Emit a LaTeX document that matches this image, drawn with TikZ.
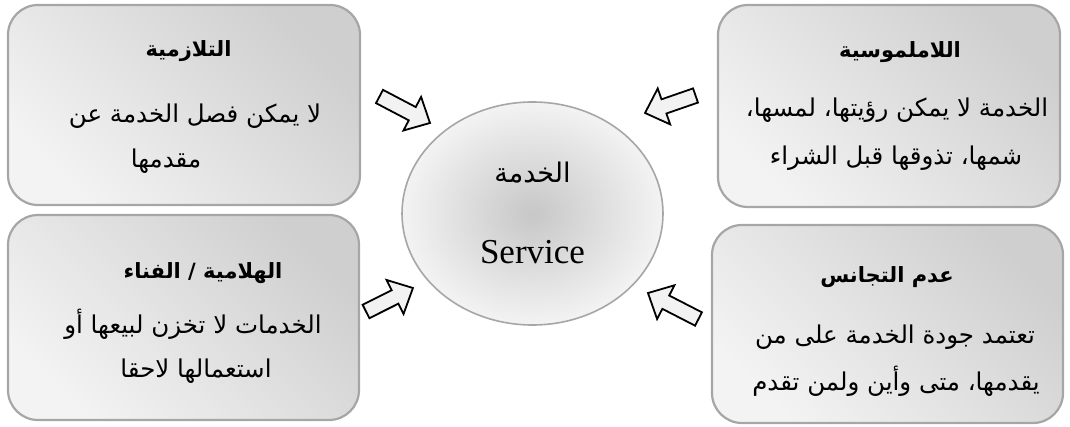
\documentclass[tikz,border=0pt]{standalone}
\usepackage{fontspec}
\setmainfont{Liberation Serif}
\newfontfamily\arabicfont[Script=Arabic]{DejaVu Sans}
\TeXXeTstate=1
\usetikzlibrary{shapes.geometric}

\definecolor{boxedge}{HTML}{A6A6A6}
\definecolor{boxdark}{HTML}{CFCFCF}
\definecolor{boxlight}{HTML}{F3F3F3}
\definecolor{arrowfill}{HTML}{F2F2F2}

\newcommand\ar[1]{\arabicfont\beginR #1\endR}

% hollow block arrow: tail point, direction, length
\newcommand\blockarrow[3]{%
  \draw[blockarr, shift={(#1)}, rotate=#2]
    (0,7.5) -- ({#3-20},7.5) -- ({#3-20},19) -- (#3,0)
    -- ({#3-20},-19) -- ({#3-20},-7.5) -- (0,-7.5) -- cycle;}

\begin{document}
\begin{tikzpicture}[x=1pt,y=1pt,
  featbox/.style={draw=boxedge, line width=2.2pt, rounded corners=30pt,
    top color=boxdark, bottom color=boxlight, shading angle=-45,
    inner sep=0pt},
  core/.style={ellipse, draw=boxedge, line width=1.6pt,
    inner color=boxdark!90!gray, outer color=boxlight, inner sep=0pt},
  blockarr/.style={draw=black, line width=1.8pt, fill=arrowfill, line join=miter},
  ttl/.style={anchor=base, font=\fontsize{21}{24}\selectfont\bfseries, inner sep=0pt},
  txt/.style={anchor=base, font=\fontsize{24.5}{28}\selectfont, inner sep=0pt}]

\useasboundingbox (0,0) rectangle (1070,426);

% the four characteristic boxes
\node[featbox, minimum width=352pt, minimum height=200pt] (tl) at (184,321) {};
\node[featbox, minimum width=351pt, minimum height=205pt] (bl) at (183.5,108.5) {};
\node[featbox, minimum width=342pt, minimum height=202pt] (tr) at (889,320) {};
\node[featbox, minimum width=351pt, minimum height=198pt] (br) at (887.5,102) {};

% the service in the middle
\node[core, minimum width=261pt, minimum height=223pt] (svc) at (532.5,212.5) {};
\node[txt, font=\fontsize{27}{30}\selectfont] (svcar) at (532.5,243) {\ar{الخدمة}};
\node[txt, font=\fontsize{35}{40}\selectfont] (svcen) at (532.5,162) {Service};

% inseparability
\node[ttl] (tlt) at (188.5,369) {\ar{التلازمية}};
\node[txt] (tl1) at (195,303) {\ar{لا يمكن فصل الخدمة عن}};
\node[txt] (tl2) at (166,258) {\ar{مقدمها}};

% perishability
\node[ttl] (blt) at (203,148) {\ar{الهلامية / الفناء}};
\node[txt] (bl1) at (193,93) {\ar{الخدمات لا تخزن لبيعها أو}};
\node[txt] (bl2) at (196,49) {\ar{استعمالها لاحقا}};

% intangibility
\node[ttl] (trt) at (900,368) {\ar{اللاملموسية}};
\node[txt] (tr1) at (897,309) {\ar{الخدمة لا يمكن رؤيتها، لمسها،}};
\node[txt] (tr2) at (896,261) {\ar{شمها، تذوقها قبل الشراء}};

% heterogeneity
\node[ttl] (brt) at (887,144) {\ar{عدم التجانس}};
\node[txt] (br1) at (895,83) {\ar{تعتمد جودة الخدمة على من}};
\node[txt] (br2) at (896,36) {\ar{يقدمها، متى وأين ولمن تقدم}};

% arrows pointing at the service
\coordinate (atl) at (379.5,329.5);
\coordinate (atr) at (695.5,330.5);
\coordinate (abl) at (366,114.5);
\coordinate (abr) at (698.5,107);
\blockarrow{atl}{-27.7}{57}
\blockarrow{atr}{199.1}{53.4}
\blockarrow{abl}{26.6}{52.5}
\blockarrow{abr}{152.8}{56.8}

\end{tikzpicture}
\end{document}
